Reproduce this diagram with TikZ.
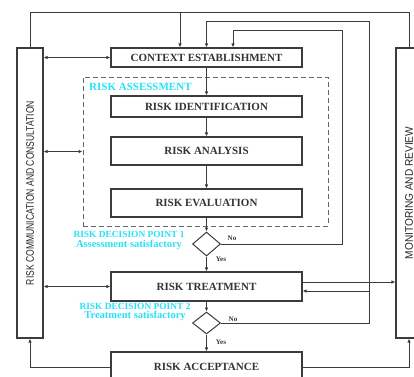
\documentclass[tikz,border=0pt]{standalone}
\usepackage{fontspec}
\setmainfont{Liberation Serif}
\setsansfont{Liberation Sans}
\usepackage{xcolor}
\usepackage{graphicx}
\usetikzlibrary{arrows.meta,shapes.geometric}
\definecolor{linegray}{RGB}{60,60,60}
\definecolor{riskcyan}{RGB}{40,225,245}

\begin{document}
\begin{tikzpicture}[x=1pt,y=-1pt,
    box/.style={draw=linegray,line width=1.1pt,fill=white,minimum width=191pt,inner sep=0pt,font=\fontsize{11}{13}\selectfont\bfseries,text=black!80},
    sidebox/.style={draw=linegray,line width=1.1pt,minimum width=26pt,minimum height=290pt,inner sep=0pt},
    sidetext/.style={rotate=90,inner sep=0pt,font=\sffamily\fontsize{11}{13}\selectfont,text=black!85},
    decision/.style={diamond,draw=linegray,line width=1pt,fill=white,minimum width=28pt,minimum height=24pt,inner sep=0pt},
    flow/.style={draw=linegray,line width=0.9pt,-{Latex[length=4pt,width=3.5pt]}},
    link/.style={draw=linegray,line width=0.9pt},
    twoway/.style={draw=linegray,line width=0.9pt,{Latex[length=4pt,width=3.5pt]}-{Latex[length=4pt,width=3.5pt]}},
    cyantext/.style={text=riskcyan,font=\fontsize{9.4}{9.5}\selectfont\bfseries,align=center,inner sep=0pt},
    yesno/.style={font=\fontsize{7}{8}\selectfont\bfseries,text=black!80,inner sep=0pt}]
  \useasboundingbox (0,0) rectangle (414,376);
  \node[box,minimum height=19pt] (context) at (206.5,57.5) {CONTEXT ESTABLISHMENT};
  \node[draw=black!60,dash pattern=on 5pt off 3pt,line width=1pt,minimum width=245pt,minimum height=149pt] (assess) at (205.5,151.5) {};
  \node[anchor=west,text=riskcyan,inner sep=0pt,font=\fontsize{11}{13}\selectfont\bfseries] (assesslabel) at (89,86.5) {RISK ASSESSMENT};
  \node[box,minimum height=21pt] (ident) at (206.5,106.5) {RISK IDENTIFICATION};
  \node[box,minimum height=28pt] (analysis) at (206.5,151) {RISK ANALYSIS};
  \node[box,minimum height=28pt] (evaluation) at (206.5,203) {RISK EVALUATION};
  \node[decision] (dec1) at (206.5,244) {};
  \node[box,minimum height=29pt] (treat) at (206.5,286.5) {RISK TREATMENT};
  \node[decision,minimum height=22pt] (dec2) at (206.5,323) {};
  \node[box,minimum height=30pt] (accept) at (206.5,367) {RISK ACCEPTANCE};
  \node[sidebox] (comm) at (30,193) {};
  \node[sidetext] (commtext) at (comm) {\scalebox{0.78}[1]{RISK COMMUNICATION AND CONSULTATION}};
  \node[sidebox] (monitor) at (409,193) {};
  \node[sidetext] (montext) at (monitor) {\scalebox{0.92}[1]{MONITORING AND REVIEW}};
  \node[cyantext] (point1) at (129,240.5) {RISK DECISION POINT 1\\{\fontsize{10.5}{9.5}\selectfont Assessment satisfactory}};
  \node[cyantext] (point2) at (135,312) {RISK DECISION POINT 2\\{\fontsize{10.5}{9.5}\selectfont Treatment satisfactory}};
  \node[yesno] (no1) at (232,238) {No};
  \node[yesno] (yes1) at (221,259) {Yes};
  \node[yesno] (no2) at (233,319) {No};
  \node[yesno] (yes2) at (221,342) {Yes};
  \coordinate (topleft) at (30,12);
  \coordinate (topright) at (409,12);
  \coordinate (topdrop) at (180,12);
  \coordinate (loopa) at (369,21);
  \coordinate (loopb) at (342,30);
  \coordinate (ctxin) at ([xshift=26.5pt]context.north);
  \coordinate (treatout) at ([yshift=4.5pt]treat.east);
  \coordinate (treatin) at ([yshift=-4.5pt]treat.east);
  \draw[link] (comm.north) -- (topleft) -- (topright) -- (monitor.north);
  \draw[flow] (topdrop) -- (topdrop |- context.north);
  \draw[flow] (dec2.east) -- (dec2.east -| loopa) -- (loopa) -- (loopa -| context.north) -- (context.north);
  \draw[flow] (dec1.east) -- (dec1.east -| loopb) -- (loopb) -- (loopb -| ctxin) -- (ctxin);
  \draw[flow] (treatout) -- (treatout -| monitor.west);
  \draw[flow] (treatin -| loopa) -- (treatin);
  \draw[flow] (accept.east) -| (monitor.south);
  \draw[flow] (accept.west) -| (comm.south);
  \draw[twoway] (comm.east |- context.west) -- (context.west);
  \draw[twoway] (comm.east |- assess.west) -- (assess.west);
  \draw[twoway] (comm.east |- treat.west) -- (treat.west);
  \draw[flow] (context) -- (ident);
  \draw[flow] (ident) -- (analysis);
  \draw[flow] (analysis) -- (evaluation);
  \draw[flow] (evaluation) -- (dec1);
  \draw[flow] (dec1) -- (treat);
  \draw[flow] (treat) -- (dec2);
  \draw[flow] (dec2) -- (accept);
\end{tikzpicture}
\end{document}
